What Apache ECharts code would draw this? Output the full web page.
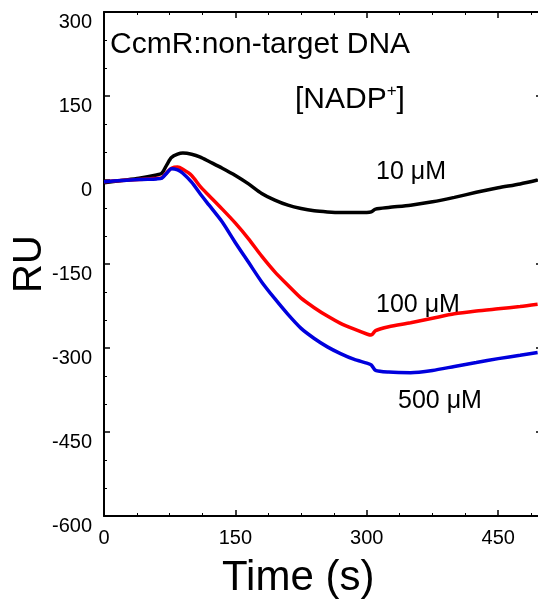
<!DOCTYPE html>
<html>
<head>
<meta charset="utf-8">
<script src="https://cdn.jsdelivr.net/npm/echarts@6/dist/echarts.min.js"></script>
<style>
  html, body { margin: 0; padding: 0; background: #fff; }
  #chart { width: 538px; height: 604px; }
</style>
</head>
<body>
<div id="chart"></div>
<script>
// time points (s)
var times = [0, 20, 40, 60, 66, 72, 77, 84, 90, 100, 110, 120, 135, 150, 165, 180, 195, 210,
             225, 240, 255, 270, 285, 300, 305, 310, 325, 350, 375, 400, 425, 450, 475, 495];
// RU responses per NADP+ concentration
var ru10 = [-5, -1, 3, 9, 12, 28, 40, 46, 48, 46, 41, 33, 21, 8, -7, -24, -36, -45,
            -51, -55, -57, -58, -58, -58, -57, -52, -49, -45, -39, -31, -22, -14, -7, 0];
var ru100 = [-3, -1, 1, 3, 4, 14, 21, 23, 19, 8, -12, -28, -52, -77, -105, -136, -164, -188,
             -211, -228, -243, -256, -266, -275, -277, -269, -262, -255, -247, -239, -234, -230, -226, -222];
var ru500 = [-3, -1, 1, 2, 3, 13, 20, 18, 12, -4, -25, -45, -75, -112, -147, -182, -212, -240,
             -265, -283, -298, -310, -320, -327, -330, -340, -343, -344, -340, -333, -326, -319, -313, -308];

var yTicks = [-600, -450, -300, -150, 0, 150, 300];
var xTicks = [0, 150, 300, 450];

function pairs(ys) {
    var out = [];
    for (var i = 0; i < times.length; i++) {
        out.push([times[i], ys[i]]);
    }
    return out;
}

var font = 'Liberation Sans, Arial, sans-serif';
var myChart = echarts.init(document.getElementById('chart'));

var frameAxis = {
    axisLine: { show: true, onZero: false, lineStyle: { color: '#000', width: 2 } },
    axisTick: { show: true, inside: true, length: 6, lineStyle: { color: '#000', width: 1.5 } },
    minorTick: { show: true, length: 3, lineStyle: { color: '#000', width: 1 } },
    splitLine: { show: false }
};

var option = {
    animation: false,
    backgroundColor: '#fff',
    grid: { left: 104, right: -4, top: 12, bottom: 88, containLabel: false, outerBoundsMode: 'none' },
    xAxis: [
        echarts.util.merge({
            type: 'value', min: 0, max: 500, interval: 150, position: 'bottom',
            minorTick: { splitNumber: 4 },
            axisLabel: {
                show: true, margin: 12, fontSize: 20, color: '#000', fontFamily: font,
                showMaxLabel: false,
                formatter: function (v) { return xTicks.indexOf(v) >= 0 ? String(v) : ''; }
            }
        }, frameAxis, true),
        echarts.util.merge({
            type: 'value', min: 0, max: 500, interval: 150, position: 'top',
            minorTick: { splitNumber: 4 },
            axisLabel: { show: false }
        }, frameAxis, true)
    ],
    yAxis: [
        echarts.util.merge({
            type: 'value', min: -600, max: 300, interval: 150, position: 'left',
            minorTick: { splitNumber: 3 },
            name: 'RU', nameLocation: 'middle', nameGap: 54, nameRotate: 90, nameMoveOverlap: false,
            nameTextStyle: { fontSize: 40, color: '#000', fontFamily: font },
            axisLabel: {
                show: true, margin: 12, fontSize: 20, color: '#000', fontFamily: font,
                verticalAlign: 'top',
                formatter: function (v) { return yTicks.indexOf(v) >= 0 ? String(v) : ''; }
            }
        }, frameAxis, true),
        echarts.util.merge({
            type: 'value', min: -600, max: 300, interval: 150, position: 'right',
            minorTick: { splitNumber: 3 },
            axisLabel: { show: false }
        }, frameAxis, true)
    ],
    series: [
        {
            name: '10 μM', type: 'line', data: pairs(ru10), showSymbol: false, smooth: 0.25,
            lineStyle: { color: '#000', width: 3.5 }, z: 3
        },
        {
            name: '100 μM', type: 'line', data: pairs(ru100), showSymbol: false, smooth: 0.25,
            lineStyle: { color: '#ff0000', width: 3.5 }, z: 4
        },
        {
            name: '500 μM', type: 'line', data: pairs(ru500), showSymbol: false, smooth: 0.25,
            lineStyle: { color: '#0000dd', width: 3.5 }, z: 5
        }
    ],
    graphic: [
        { type: 'text', left: 110, top: 30, style: { text: 'CcmR:non-target DNA', font: '30px ' + font, fill: '#000' } },
        {
            type: 'text', left: 295, top: 83,
            style: {
                text: '[NADP{sup|+}]', font: '30px ' + font, fill: '#000',
                rich: { sup: { fontSize: 17, fontFamily: font, padding: [0, 0, 17, 0] } }
            }
        },
        { type: 'text', left: 376, top: 160, style: { text: '10 μM', font: '25px ' + font, fill: '#000' } },
        { type: 'text', left: 376, top: 293, style: { text: '100 μM', font: '25px ' + font, fill: '#000' } },
        { type: 'text', left: 398, top: 389, style: { text: '500 μM', font: '25px ' + font, fill: '#000' } },
        { type: 'text', left: 222, top: 557, style: { text: 'Time (s)', font: '42px ' + font, fill: '#000' } }
    ]
};

myChart.setOption(option);
</script>
</body>
</html>
